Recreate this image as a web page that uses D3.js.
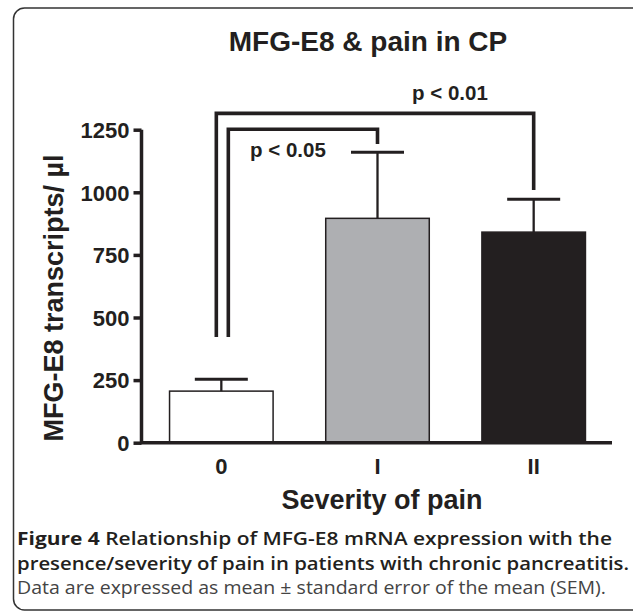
<!DOCTYPE html>
<html>
<head>
<meta charset="utf-8">
<script src="https://cdn.jsdelivr.net/npm/d3@7"></script>
<style>
  html, body { margin: 0; padding: 0; background: #fff; }
  svg { display: block; }
</style>
</head>
<body>
<svg id="chart" width="633" height="613"></svg>
<script>
// ---- data ----
const categories = ["0", "I", "II"];
const means = [206, 896, 841];
const sems = [47, 264, 131];
const yTicks = [0, 250, 500, 750, 1000, 1250];
const barFills = ["#ffffff", "#aeafb2", "#231f20"];
// significance brackets: from category, to category, top value, left leg bottom, right leg bottom, label
const bracketFrom = ["0", "0"];
const bracketTo = ["I", "II"];
const bracketTop = [1252, 1315];
const bracketLeftEnd = [422, 422];
const bracketRightEnd = [1193, 1009];
const bracketLabels = ["p < 0.05", "p < 0.01"];
const titleText = "MFG-E8 & pain in CP";
const yTitle = "MFG-E8 transcripts/ µl";
const xTitle = "Severity of pain";
const captionBold1 = "Figure 4";
const captionLine1 = " Relationship of MFG-E8 mRNA expression with the";
const captionLine2 = "presence/severity of pain in patients with chronic pancreatitis.";
const captionLine3 = "Data are expressed as mean ± standard error of the mean (SEM).";

// ---- layout ----
const ink = "#231f20";
const svg = d3.select("#chart");
const font = "'Liberation Sans', Arial, Helvetica, sans-serif";

// frame
svg.append("rect")
  .attr("x", 13.5).attr("y", 8).attr("width", 640).attr("height", 602)
  .attr("rx", 11).attr("ry", 11)
  .attr("fill", "none").attr("stroke", "#333").attr("stroke-width", 1.5);

const x = d3.scaleBand().domain(categories).range([143, 612]).paddingInner(0.337).paddingOuter(0.17);
const y = d3.scaleLinear().domain([0, 1250]).range([442.7, 129.7]);

// title
svg.append("text")
  .attr("x", 368).attr("y", 51)
  .attr("text-anchor", "middle")
  .attr("font-family", font).attr("font-weight", "bold").attr("font-size", 28)
  .attr("fill", ink)
  .text(titleText);

// bars
const data = categories.map((c, i) => ({ c, m: means[i], s: sems[i], f: barFills[i] }));
svg.selectAll("rect.bar").data(data).enter().append("rect")
  .attr("class", "bar")
  .attr("x", d => x(d.c))
  .attr("width", x.bandwidth())
  .attr("y", d => y(d.m))
  .attr("height", d => y(0) - y(d.m))
  .attr("fill", d => d.f)
  .attr("stroke", ink).attr("stroke-width", 1.5);

// error bars (upper only)
const cx = c => x(c) + x.bandwidth() / 2;
svg.selectAll("line.stem").data(data).enter().append("line")
  .attr("x1", d => cx(d.c)).attr("x2", d => cx(d.c))
  .attr("y1", d => y(d.m)).attr("y2", d => y(d.m + d.s))
  .attr("stroke", ink).attr("stroke-width", 2.3);
svg.selectAll("line.cap").data(data).enter().append("line")
  .attr("x1", d => cx(d.c) - 26.5).attr("x2", d => cx(d.c) + 26.5)
  .attr("y1", d => y(d.m + d.s)).attr("y2", d => y(d.m + d.s))
  .attr("stroke", ink).attr("stroke-width", 3);

// axes
const yAxis = d3.axisLeft(y).tickValues(yTicks).tickFormat(d3.format("d")).tickSize(8).tickPadding(4);
const gy = svg.append("g").attr("transform", "translate(141.5,0)").call(yAxis);
gy.select(".domain").attr("stroke", ink).attr("stroke-width", 3.5).attr("d", `M0,${y(0)}V${y(1250)}`);
gy.selectAll(".tick line").attr("stroke", ink).attr("stroke-width", 3.5);
gy.selectAll(".tick text")
  .attr("font-family", font).attr("font-weight", "bold").attr("font-size", 22)
  .attr("fill", ink).attr("dy", "0.35em");

const xAxis = d3.axisBottom(x).tickSize(0).tickPadding(16);
const gx = svg.append("g").attr("transform", `translate(0,${y(0)})`).call(xAxis);
gx.select(".domain").attr("stroke", ink).attr("stroke-width", 3.5).attr("d", `M140,0H612`);
gx.selectAll(".tick text")
  .attr("font-family", font).attr("font-weight", "bold").attr("font-size", 22)
  .attr("fill", ink);

// axis titles
svg.append("text")
  .attr("transform", "translate(63,298) rotate(-90)")
  .attr("text-anchor", "middle")
  .attr("font-family", font).attr("font-weight", "bold").attr("font-size", 27)
  .attr("fill", ink)
  .text(yTitle);
svg.append("text")
  .attr("x", 382).attr("y", 509)
  .attr("text-anchor", "middle")
  .attr("font-family", font).attr("font-weight", "bold").attr("font-size", 27)
  .attr("fill", ink)
  .text(xTitle);

// significance brackets
bracketFrom.forEach((f, i) => {
  const legOffset = i === 0 ? 7 : -5;
  const x1 = cx(f) + legOffset;
  const x2 = cx(bracketTo[i]);
  const yt = y(bracketTop[i]);
  svg.append("path")
    .attr("d", `M${x1},${y(bracketLeftEnd[i])}V${yt}H${x2}V${y(bracketRightEnd[i])}`)
    .attr("fill", "none").attr("stroke", ink).attr("stroke-width", 3.6)
    .attr("stroke-linejoin", "miter");
});
svg.append("text")
  .attr("x", 250).attr("y", y(bracketTop[0]) + 28)
  .attr("font-family", font).attr("font-weight", "bold").attr("font-size", 20.5)
  .attr("fill", ink).text(bracketLabels[0]);
svg.append("text")
  .attr("x", 412).attr("y", y(bracketTop[1]) - 13)
  .attr("font-family", font).attr("font-weight", "bold").attr("font-size", 20.5)
  .attr("fill", ink).text(bracketLabels[1]);

// caption
const capFont = "'Open Sans', 'Noto Sans', sans-serif";
const c1 = svg.append("text").attr("x", 17).attr("y", 545)
  .attr("font-family", capFont).attr("font-size", 18).attr("fill", ink)
  .attr("textLength", 595).attr("lengthAdjust", "spacingAndGlyphs");
c1.append("tspan").attr("font-weight", "bold").text(captionBold1);
c1.append("tspan").attr("font-weight", 600).text(captionLine1);
svg.append("text").attr("x", 17).attr("y", 569.5)
  .attr("font-family", capFont).attr("font-size", 18).attr("font-weight", 600).attr("fill", ink)
  .attr("textLength", 612).attr("lengthAdjust", "spacingAndGlyphs")
  .text(captionLine2);
svg.append("text").attr("x", 17).attr("y", 594)
  .attr("font-family", capFont).attr("font-size", 18).attr("font-weight", 400).attr("fill", "#444")
  .attr("textLength", 589).attr("lengthAdjust", "spacingAndGlyphs")
  .text(captionLine3);
</script>
</body>
</html>
